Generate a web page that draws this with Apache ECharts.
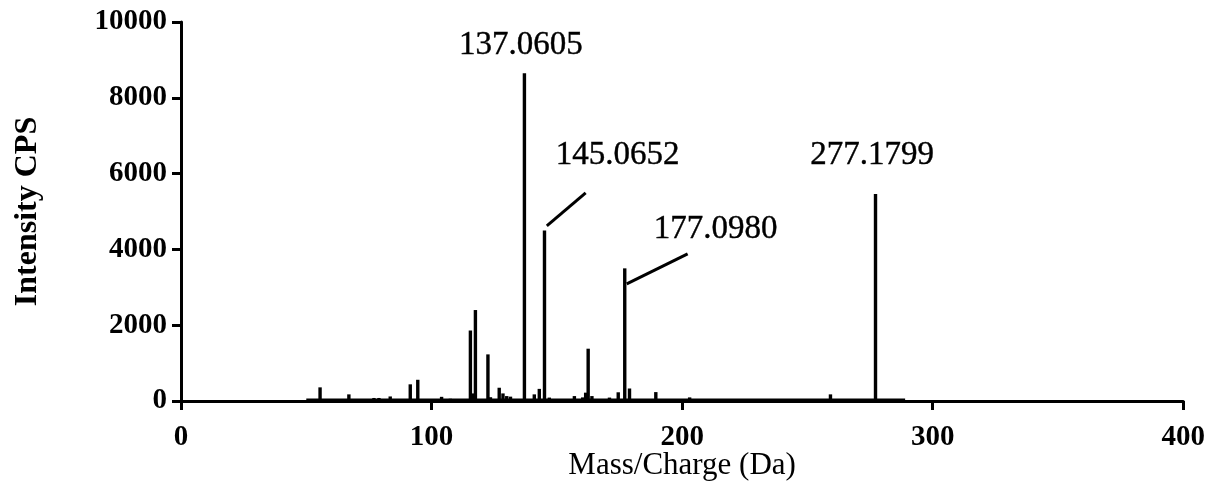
<!DOCTYPE html>
<html>
<head>
<meta charset="utf-8">
<script src="https://cdn.jsdelivr.net/npm/echarts@6/dist/echarts.min.js"></script>
<style>
html,body{margin:0;padding:0;background:#fff;}
#chart{width:1208px;height:492px;}
</style>
</head>
<body>
<div id="chart"></div>
<script>
// m/z of each peak (Da)
var peakMz = [55.5, 67, 77, 79, 83.5, 91.5, 94.5, 104, 107.5, 115.5, 116.5, 117.5, 122.5, 123.5,
  127, 128.5, 130, 131.5, 137.06, 141, 143, 145.07, 147, 157, 160.3, 161.5, 162.5, 164,
  171, 174.5, 177.10, 179, 184, 189.5, 203, 259.2, 277.18];
// intensity of each peak (CPS)
var peakIntensity = [360, 175, 80, 80, 120, 440, 560, 110, 60, 1860, 200, 2400, 1230, 100,
  350, 200, 130, 115, 8650, 175, 320, 4500, 90, 130, 95, 220, 1380, 130,
  90, 230, 3500, 330, 50, 235, 95, 175, 5460];
// continuous baseline of the spectrum
var baselineMz = [50, 289];
var baselineIntensity = [40, 40];
// annotated peak labels
var labelTexts = ['137.0605', '145.0652', '177.0980', '277.1799'];
var labelMz = [135.6, 174.3, 213.4, 275.8];
var labelIntensity = [9390, 6490, 4540, 6490];
// leader lines for labels (start and end points)
var leader145Mz = [146.0, 161.5];
var leader145Int = [4620, 5490];
var leader177Mz = [177.9, 202.2];
var leader177Int = [3090, 3880];
// axis ticks
var xTicks = [0, 100, 200, 300, 400];
var yTicks = [0, 2000, 4000, 6000, 8000, 10000];

function pairs(a, b) { return a.map(function (v, i) { return [v, b[i]]; }); }

var chart = echarts.init(document.getElementById('chart'), null, {renderer: 'canvas'});
var serif = '"Liberation Serif", "Times New Roman", serif';
chart.setOption({
  animation: false,
  backgroundColor: '#fff',
  grid: {left: 181, right: 24, top: 22, bottom: 91, containLabel: false},
  xAxis: {
    type: 'value', min: xTicks[0], max: xTicks[xTicks.length - 1], interval: 100,
    name: 'Mass/Charge (Da)', nameLocation: 'middle', nameGap: 49, nameMoveOverlap: false,
    nameTextStyle: {fontFamily: serif, fontSize: 31, color: '#000'},
    axisLine: {show: true, onZero: false, lineStyle: {color: '#000', width: 3}},
    axisTick: {show: true, length: 9, lineStyle: {color: '#000', width: 3}},
    axisLabel: {fontFamily: serif, fontWeight: 'bold', fontSize: 29, color: '#000', margin: 22,
      formatter: function (v) { return String(v); }},
    splitLine: {show: false}
  },
  yAxis: {
    type: 'value', min: yTicks[0], max: yTicks[yTicks.length - 1], interval: 2000,
    name: 'Intensity CPS', nameLocation: 'middle', nameGap: 137, nameMoveOverlap: false,
    nameTextStyle: {fontFamily: serif, fontWeight: 'bold', fontSize: 32, color: '#000'},
    axisLine: {show: true, lineStyle: {color: '#000', width: 3}},
    axisTick: {show: true, length: 9, lineStyle: {color: '#000', width: 3}},
    axisLabel: {fontFamily: serif, fontWeight: 'bold', fontSize: 29, color: '#000', margin: 14,
      formatter: function (v) { return String(v); }},
    splitLine: {show: false}
  },
  series: [
    {
      type: 'line', data: pairs(baselineMz, baselineIntensity), symbol: 'none',
      lineStyle: {color: '#000', width: 2}, z: 2, silent: true
    },
    {
      type: 'bar', data: pairs(peakMz, peakIntensity), barWidth: 3.4,
      itemStyle: {color: '#000'}, z: 3, silent: true
    },
    {
      type: 'line', data: pairs(leader145Mz, leader145Int), symbol: 'none',
      lineStyle: {color: '#000', width: 3}, z: 4, silent: true
    },
    {
      type: 'line', data: pairs(leader177Mz, leader177Int), symbol: 'none',
      lineStyle: {color: '#000', width: 3}, z: 4, silent: true
    },
    {
      type: 'scatter', symbolSize: 0, z: 5, silent: true,
      data: labelMz.map(function (m, i) {
        return {value: [m, labelIntensity[i]], name: labelTexts[i]};
      }),
      label: {
        show: true, position: 'inside', formatter: function (p) { return p.name; },
        fontFamily: serif, fontSize: 33, color: '#000', opacity: 1,
        textBorderColor: '#000', textBorderWidth: 0.4
      }
    }
  ]
});
</script>
</body>
</html>
